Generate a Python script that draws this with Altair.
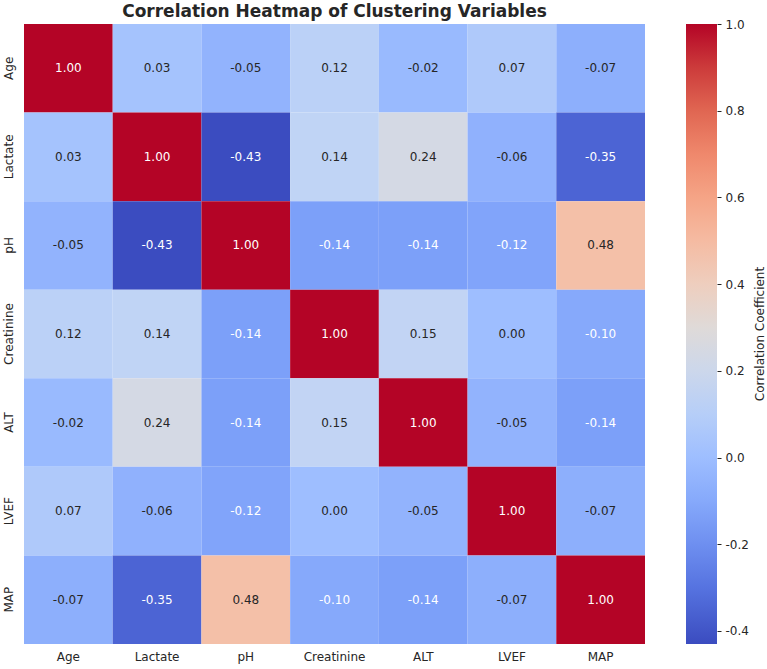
import altair as alt
import pandas as pd

variables = ["Age", "Lactate", "pH", "Creatinine", "ALT", "LVEF", "MAP"]
row_age = [1.00, 0.03, -0.05, 0.12, -0.02, 0.07, -0.07]
row_lactate = [0.03, 1.00, -0.43, 0.14, 0.24, -0.06, -0.35]
row_ph = [-0.05, -0.43, 1.00, -0.14, -0.14, -0.12, 0.48]
row_creatinine = [0.12, 0.14, -0.14, 1.00, 0.15, 0.00, -0.10]
row_alt = [-0.02, 0.24, -0.14, 0.15, 1.00, -0.05, -0.14]
row_lvef = [0.07, -0.06, -0.12, 0.00, -0.05, 1.00, -0.07]
row_map = [-0.07, -0.35, 0.48, -0.10, -0.14, -0.07, 1.00]
rows = [row_age, row_lactate, row_ph, row_creatinine, row_alt, row_lvef, row_map]

colorbar_ticks = [-0.4, -0.2, 0.0, 0.2, 0.4, 0.6, 0.8, 1.0]
vmin, vmax = -0.43, 1.0

# coolwarm colormap stops
coolwarm = ["#3b4cc0", "#5977e3", "#7b9ff9", "#9ebeff", "#c0d4f5", "#dddcdc",
            "#f2cbb7", "#f7ac8e", "#ee8468", "#d65244", "#b40426"]
stops = [vmin + (vmax - vmin) * i / (len(coolwarm) - 1) for i in range(len(coolwarm))]

records = []
for rv, row in zip(variables, rows):
    for cv, val in zip(variables, row):
        records.append({"row": rv, "col": cv, "value": val, "label": f"{val:.2f}"})
df = pd.DataFrame(records)

W, H = 621, 620
FONT = "DejaVu Sans"
TXT = "#262626"

base = alt.Chart(df).encode(
    x=alt.X("col:N", sort=variables, title=None,
            axis=alt.Axis(labelAngle=0, ticks=False, domain=False, labelPadding=7,
                          labelFontSize=12, labelColor=TXT, labelFont=FONT)),
    y=alt.Y("row:N", sort=variables, title=None,
            axis=alt.Axis(orient="left", labelAngle=270, labelAlign="center",
                          labelBaseline="bottom", ticks=False, domain=False,
                          labelPadding=9, labelFontSize=12, labelColor=TXT,
                          labelFont=FONT)),
)

rects = base.mark_rect().encode(
    color=alt.Color("value:Q",
                    scale=alt.Scale(domain=stops, range=coolwarm, interpolate="rgb"),
                    legend=alt.Legend(
                        title=None, orient="none", legendX=662, legendY=0,
                        direction="vertical", gradientLength=H, gradientThickness=31,
                        gradientStrokeWidth=0, labelExpr="''",
                    ))
)

texts = base.mark_text(fontSize=12, font=FONT).encode(
    text="label:N",
    color=alt.condition(
        (alt.datum.value <= -0.095) | (alt.datum.value >= 0.9),
        alt.value("#ffffff"), alt.value(TXT)),
)

heat = alt.layer(rects, texts)

# colorbar axis (ticks + labels) on an independent y scale
cbar_axis = alt.Chart(pd.DataFrame({"v": colorbar_ticks})).mark_point(opacity=0).encode(
    x=alt.value(0),
    y=alt.Y("v:Q", scale=alt.Scale(domain=[vmin, vmax], nice=False, zero=False),
            title=None,
            axis=alt.Axis(orient="right", offset=72, values=colorbar_ticks,
                          domain=False, grid=False, ticks=True, tickSize=4,
                          tickColor=TXT, tickWidth=1, labelPadding=4,
                          labelFontSize=12, labelColor=TXT, labelFont=FONT,
                          labelExpr="replace(format(datum.value, '.1f'), '\u2212', '-')")),
)

cbar_title = alt.Chart(pd.DataFrame({"t": ["Correlation Coefficient"]})).mark_text(
    angle=270, fontSize=12, font=FONT, color=TXT
).encode(text="t:N", x=alt.value(736), y=alt.value(H / 2))

main_title = alt.Chart(pd.DataFrame({"t": ["Correlation Heatmap of Clustering Variables"]})).mark_text(
    fontSize=17, font=FONT, fontWeight="bold", color=TXT, baseline="alphabetic",
    align="center"
).encode(text="t:N", x=alt.value(W / 2), y=alt.value(-7))

chart = alt.layer(heat, cbar_axis, cbar_title, main_title).resolve_scale(
    y="independent"
).properties(
    width=W, height=H,
    autosize=alt.AutoSizeParams(type="none"),
    padding={"left": 24, "top": 24, "right": 122, "bottom": 25},
).configure_view(stroke=None)

chart.save("out.html", embed_options={"renderer": "svg", "actions": False})
